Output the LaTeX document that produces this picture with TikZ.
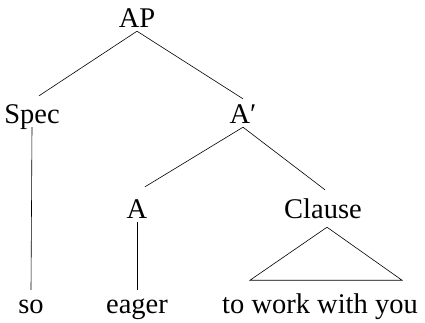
\documentclass[tikz,border=0pt]{standalone}
\usepackage{fontspec}
\setmainfont{Liberation Serif}
\usepackage{tikz}
\usetikzlibrary{calc}

\begin{document}
\begin{tikzpicture}[
  x=1pt, y=1pt,
  cat/.style={anchor=base, inner sep=4pt, text height=19pt, text depth=0pt, font=\fontsize{28.5}{34}\selectfont},
  leaf/.style={cat},
  every edge/.style={draw, line width=0.6pt}
]
\useasboundingbox (0,0) rectangle (425,-322);
\node[cat]  (ap)     at (137,-27)  {AP};
\node[cat]  (spec)   at (32,-123)  {Spec};
\node[cat]  (abar)   at (243,-123) {A′};
\node[cat]  (a)      at (137,-218) {A};
\node[cat]  (clause) at (323,-218) {Clause};
\node[leaf] (so)     at (31,-313)  {so};
\node[leaf] (eager)  at (137,-313) {eager};
\node[leaf] (comp)   at (320,-313) {to work with you};

\draw (ap.south)   edge ($(spec.north)+(7,4)$)
      (ap.south)   edge ($(abar.north)+(0,1)$);
\draw (abar.south) edge ($(a.north)+(8,8)$)
      (abar.south) edge ($(clause.north)+(2,5)$);
\draw (spec.south) edge (so.north);
\draw (a.south)    edge (eager.north);
% roof over the clause
\draw[line width=0.6pt] ($(clause.south)+(4,-5)$) -- ++(-77,-53) -- ++(152,0) -- cycle;
\end{tikzpicture}
\end{document}
